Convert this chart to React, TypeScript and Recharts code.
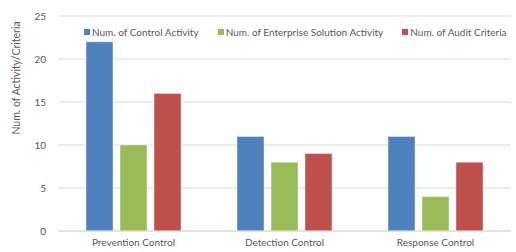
import { Bar, BarChart, CartesianGrid, XAxis, YAxis } from "recharts";

const categories = ["Prevention Control", "Detection Control", "Response Control"];
const controlActivity = [22, 11, 11];
const enterpriseActivity = [10, 8, 4];
const auditCriteria = [16, 9, 8];
const yTicks = [0, 5, 10, 15, 20, 25];

const SERIES = [
  { key: "control", name: "Num. of Control Activity", color: "#4f81bd" },
  { key: "enterprise", name: "Num. of Enterprise Solution Activity", color: "#9bbb59" },
  { key: "audit", name: "Num. of Audit Criteria", color: "#c0504d" },
];

const FONT = "Lato, 'Liberation Sans', sans-serif";
const TEXT = "#595959";

const data = categories.map((name, i) => ({
  name,
  control: controlActivity[i],
  enterprise: enterpriseActivity[i],
  audit: auditCriteria[i],
}));

// legend sits inside the plot area, like the original
function LegendRow() {
  return (
    <div
      style={{
        position: "absolute",
        top: 26,
        left: 0,
        display: "flex",
        paddingLeft: 84,
        gap: 19,
        fontFamily: FONT,
        fontSize: 10,
        color: TEXT,
        lineHeight: "12px",
        whiteSpace: "nowrap",
      }}
    >
      {SERIES.map((s) => (
        <div key={s.key} style={{ display: "flex", alignItems: "center" }}>
          <span
            style={{
              width: 6,
              height: 6,
              background: s.color,
              display: "inline-block",
              marginRight: 2,
            }}
          />
          <span>{s.name}</span>
        </div>
      ))}
    </div>
  );
}

export default function App() {
  return (
    <div style={{ position: "absolute", left: 0, top: 0, width: 516, height: 252, background: "#fff" }}>
      <BarChart
        width={516}
        height={252}
        data={data}
        margin={{ top: 16, right: 5, left: 0, bottom: 0 }}
        barSize={27}
        barGap={7}
      >
        <CartesianGrid vertical={false} stroke="#d9d9d9" />
        <XAxis
          dataKey="name"
          height={21}
          tickLine={false}
          axisLine={{ stroke: "#d9d9d9" }}
          tick={{ fill: TEXT, fontSize: 10, fontFamily: FONT }}
        />
        <YAxis
          width={58}
          domain={[0, 25]}
          ticks={yTicks}
          tickLine={false}
          axisLine={false}
          tickMargin={6}
          tick={{ fill: TEXT, fontSize: 10, fontFamily: FONT }}
          label={{
            content: () => (
              <text
                x={17}
                y={78}
                transform="rotate(-90 17 78)"
                textAnchor="middle"
                dominantBaseline="middle"
                fill={TEXT}
                fontSize={10.5}
                fontFamily={FONT}
              >
                Num. of Activity/Criteria
              </text>
            ),
          }}
        />
        {SERIES.map((s) => (
          <Bar
            key={s.key}
            dataKey={s.key}
            name={s.name}
            fill={s.color}
            stroke="#ffffff"
            strokeOpacity={0.4}
            isAnimationActive={false}
          />
        ))}
      </BarChart>
      <LegendRow />
    </div>
  );
}
